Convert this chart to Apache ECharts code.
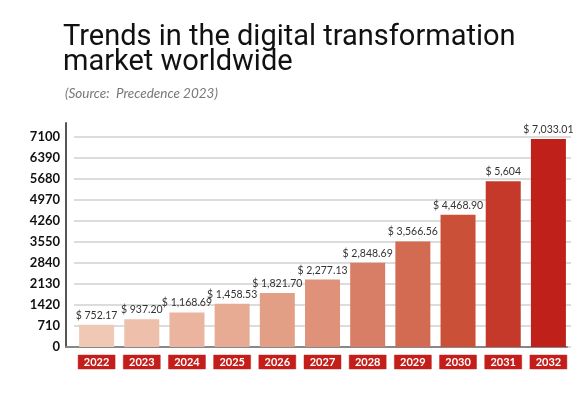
<!DOCTYPE html>
<html>
<head>
<meta charset="utf-8">
<script src="https://cdn.jsdelivr.net/npm/echarts@6/dist/echarts.min.js"></script>
<style>
html,body{margin:0;padding:0;background:#fff;}
#main{width:588px;height:404px;}
</style>
</head>
<body>
<div id="main"></div>
<script>
var years = ['2022','2023','2024','2025','2026','2027','2028','2029','2030','2031','2032'];
var values = [752.17, 937.20, 1168.69, 1458.53, 1821.70, 2277.13, 2848.69, 3566.56, 4468.90, 5604, 7033.01];
var valueLabels = ['$ 752.17','$ 937.20','$ 1,168.69','$ 1,458.53','$ 1,821.70','$ 2,277.13','$ 2,848.69','$ 3,566.56','$ 4,468.90','$ 5,604','$ 7,033.01'];
var barColors = ['#f0c8b6','#eec0ac','#eab49f','#e7aa93','#e39e86','#df917a','#d97e66','#d36a52','#cb5038','#c4392a','#bf2019'];
var yTicks = [0,710,1420,2130,2840,3550,4260,4970,5680,6390,7100];

var chart = echarts.init(document.getElementById('main'));
chart.setOption({
  backgroundColor: '#fff',
  animation: false,
  title: [{
    text: 'Trends in the digital transformation\nmarket worldwide',
    left: 58, top: 20,
    textStyle: {fontFamily: 'Roboto', fontSize: 29, fontWeight: 'normal', color: '#111', lineHeight: 25}
  },{
    text: '(Source:  Precedence 2023)',
    left: 60, top: 82,
    textStyle: {fontFamily: 'Lato', fontSize: 13.5, fontStyle: 'italic', fontWeight: 'normal', color: '#777'}
  }],
  grid: [
    {left: 74, right: 17, top: 123, bottom: 57},
    {left: 66, right: 21, top: 123, bottom: 57}
  ],
  xAxis: [{
    type: 'category', data: years, gridIndex: 0,
    axisLine: {show: false},
    axisTick: {show: false},
    axisLabel: {
      margin: 8, color: '#fff', fontFamily: 'Lato', fontWeight: 'bold', fontSize: 11,
      backgroundColor: '#c41e1a', borderColor: '#e59a94', borderWidth: 0.5,
      width: 37, height: 14, lineHeight: 14, align: 'center', padding: 0
    }
  },{
    type: 'value', gridIndex: 1, min: 0, max: 1,
    axisLine: {show: true, lineStyle: {color: '#888', width: 2}},
    axisTick: {show: false}, axisLabel: {show: false}, splitLine: {show: false}
  }],
  yAxis: [{
    type: 'value', gridIndex: 0, min: 0, max: 7570, interval: 710, offset: 8,
    axisLine: {show: true, lineStyle: {color: '#555', width: 2}},
    axisTick: {show: false},
    axisLabel: {
      showMaxLabel: false, margin: 6, color: '#111', fontFamily: 'Lato', fontWeight: 'bold', fontSize: 13,
      formatter: function (v) { return String(v); }
    },
    splitLine: {show: true, showMaxLine: false, lineStyle: {color: '#d0d0d0', width: 1.5}}
  },{
    type: 'value', gridIndex: 1, min: 0, max: 1, show: false
  }],
  series: [{
    type: 'bar', xAxisIndex: 0, yAxisIndex: 0,
    barWidth: 35,
    data: values.map(function (v, i) {
      return {value: v, itemStyle: {color: barColors[i]}};
    }),
    label: {
      show: true, position: 'top', distance: 4,
      fontFamily: 'Lato', fontSize: 10.5, color: '#333',
      formatter: function (p) { return valueLabels[p.dataIndex]; }
    }
  }]
});
</script>
</body>
</html>
